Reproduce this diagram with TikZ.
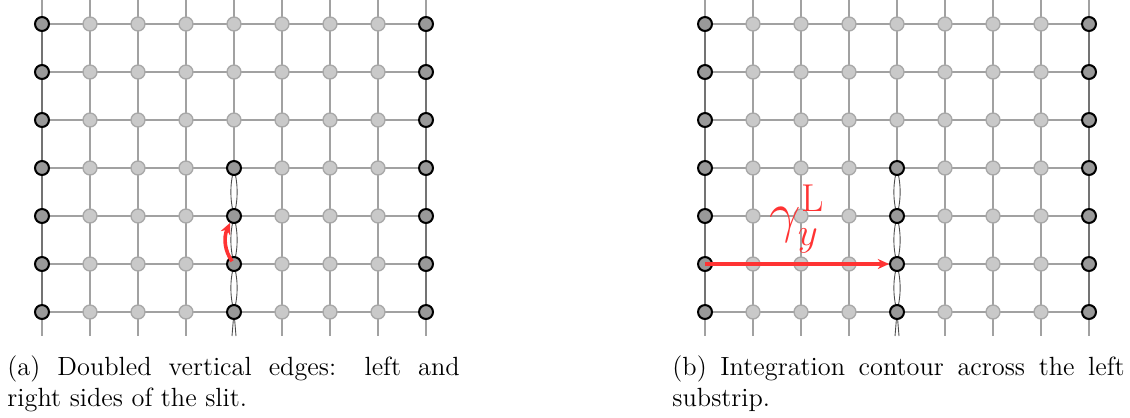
\documentclass[tikz,border=0pt]{standalone}
\usetikzlibrary{arrows.meta,backgrounds}
\definecolor{gridc}{gray}{0.63}
\definecolor{bndc}{gray}{0.45}
\definecolor{lightfill}{gray}{0.79}
\definecolor{lightdraw}{gray}{0.66}
\definecolor{darkfill}{gray}{0.6}
\definecolor{lensc}{gray}{0.3}
\definecolor{myred}{RGB}{255,51,51}
\newcommand{\drawlattice}[2]{%
  % nodes
  \foreach \i in {0,...,8}{%
    \foreach \j in {0,...,6}{%
      \def\st{lightv}%
      \ifnum\i=0 \def\st{darkv}\fi
      \ifnum\i=8 \def\st{darkv}\fi
      \ifnum\i=4 \ifnum\j>2 \def\st{darkv}\fi\fi
      \node[\st] (#1-\i-\j) at ({#2+48*\i},{24+48*\j}) {};
    }%
    \coordinate (#1-\i-top) at ({#2+48*\i},0);
    \coordinate (#1-\i-bot) at ({#2+48*\i},336);
  }%
  \coordinate (#1-slitl) at ({#2+48*4-2},336);
  \coordinate (#1-slitr) at ({#2+48*4+2},336);
  \begin{scope}[on background layer]
    \foreach \j in {0,...,6}{\draw[gridline] (#1-0-\j.center) -- (#1-8-\j.center);}
    \foreach \i in {0,1,2,3,5,6,7,8}{\draw[gridline] (#1-\i-top) -- (#1-\i-bot);}
    \draw[bndline] (#1-0-0.center) -- (#1-0-6.center);
    \draw[bndline] (#1-8-0.center) -- (#1-8-6.center);
    \draw[gridline] (#1-4-top) -- (#1-4-3.center);
    \foreach \j in {3,4,5}{%
      \pgfmathtruncatemacro\jj{\j+1}%
      \draw[lens] (#1-4-\j.center) to[bend left=13] (#1-4-\jj.center);
      \draw[lens] (#1-4-\j.center) to[bend right=13] (#1-4-\jj.center);
    }%
    \draw[lens] (#1-4-6.center) -- (#1-slitl);
    \draw[lens] (#1-4-6.center) -- (#1-slitr);
  \end{scope}
}
\begin{document}
\begin{tikzpicture}[x=0.44444pt,y=-0.44444pt,
  gridline/.style={gridc, line width=0.6pt},
  bndline/.style={bndc, line width=0.8pt},
  lens/.style={lensc, line width=0.4pt},
  lightv/.style={circle, fill=lightfill, draw=lightdraw, line width=0.6pt, minimum size=6.2pt, inner sep=0pt},
  darkv/.style={circle, fill=darkfill, draw=black, line width=0.9pt, minimum size=6.2pt, inner sep=0pt},
  redarrow/.style={myred, line width=1.6pt, -{Stealth[length=5pt,width=4.5pt]}},
  capnode/.style={anchor=base west, inner sep=0pt, font=\fontsize{11.7}{13.8}\selectfont}]
\useasboundingbox (0,0) rectangle (1130,417);
\drawlattice{a}{42}
\drawlattice{b}{705}
\draw[redarrow, shorten <=1.5pt] (a-4-5.center) to[bend left=30] (a-4-4);
\draw[redarrow] (b-0-5.center) -- (b-4-5)
  node[midway, above, inner sep=0pt, yshift=4pt, font=\fontsize{24.5}{29}\selectfont] (lab) {$\gamma_y^{\mathrm{L}}$};
\node[capnode] (capa) at (7,375.5) {\parbox[t]{201pt}{(a) Doubled vertical edges: left and\linebreak right sides of the slit.}};
\node[capnode] (capb) at (672,375.5) {\parbox[t]{201pt}{(b) Integration contour across the left\linebreak substrip.}};
\end{tikzpicture}
\end{document}
